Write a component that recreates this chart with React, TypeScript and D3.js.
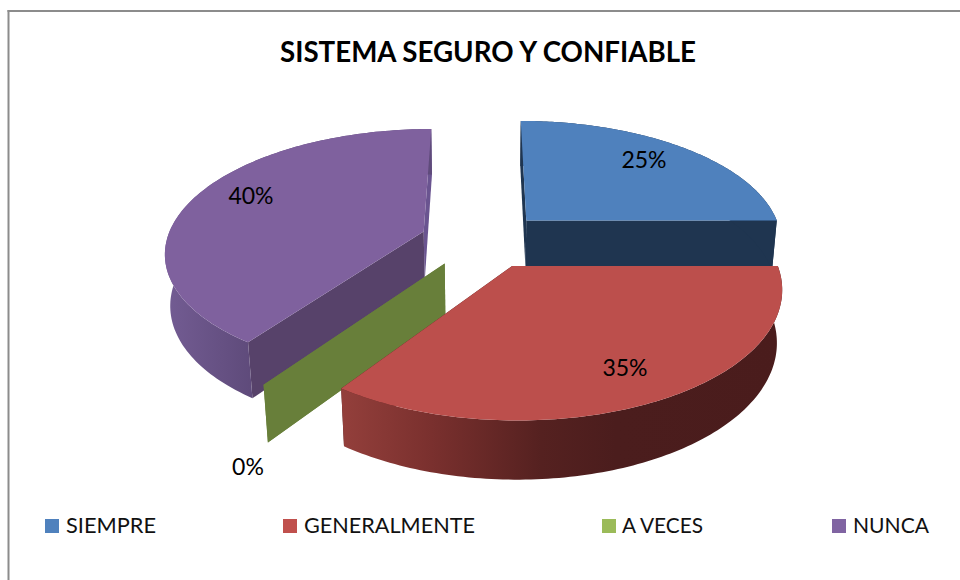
import React from "react";
import * as d3 from "d3";

const categories = ["SIEMPRE", "GENERALMENTE", "A VECES", "NUNCA"];
const values = [25, 35, 0, 40];
const percentLabels = ["25%", "35%", "0%", "40%"];
const topColors = ["#4f81bd", "#bc4f4c", "#687f3a", "#7f619e"];
const legendColors = ["#4f81bd", "#c0504d", "#9bbb59", "#8064a2"];
const startFaceColors = ["#1f3550", "#4a1c1c", "#687f3a", "#57426a"];
const endFaceColors = ["#1f3550", "#4a1c1c", "#687f3a", "#6a5490"];
const drawOrder = [3, 0, 2, 1];
const title = "SISTEMA SEGURO Y CONFIABLE";

// Layout
const W = 960;
const H = 580;
const cx = 484;
const cy = 240;
const Rx = 257;
const Ay = 121;
const depthH = 52;
const persp = 0.1576;
const perspH = 0.017;
const explode = 0.233;
const sliceNudgeX = [1, 0, -3, -4];
const sliceStartShift = [0, 0, -0.016, -0.016];
const sliceEndShift = [0, -0.02, -0.016, 0];
const labelPos: [number, number][] = [[644, 168], [625, 376], [248, 475], [251, 204]];
const legendSwatchX = [45, 283, 602, 832];
const legendTextX = [66, 304, 622, 853];
const legendTextW = [90, 171, 81, 76];

type P = [number, number];

function project(theta: number, r: number, ex: number, ey: number, low: boolean, nudge: number): P {
  const x = r * Math.sin(theta) + ex;
  const y = -r * Math.cos(theta) + ey;
  const s = 1 / (1 - persp * y + (low ? perspH : 0));
  return [cx + nudge + Rx * x * s, cy + (Ay * y + (low ? depthH : 0)) * s];
}

const linePath = d3.line<P>().x((d) => d[0]).y((d) => d[1]);
const pieGen = d3.pie<number>().sort(null).value((d) => d);

function sampleAngles(a0: number, a1: number): number[] {
  const n = 120;
  const scale = d3.scaleLinear().domain([0, n]).range([a0, a1]);
  return d3.range(n + 1).map((i) => scale(i));
}

export default function App() {
  const arcs = pieGen(values);
  const slices = arcs.map((a, i) => {
    const mid = (a.startAngle + a.endAngle) / 2;
    const ex = explode * Math.sin(mid);
    const ey = -explode * Math.cos(mid);
    const nudge = sliceNudgeX[i];
    const startAngle = a.startAngle + sliceStartShift[i];
    const endAngle = a.endAngle + sliceEndShift[i];
    const angles = sampleAngles(startAngle, endAngle);
    const topArc = angles.map((t) => project(t, 1, ex, ey, false, nudge));
    const lowArc = angles.map((t) => project(t, 1, ex, ey, true, nudge));
    const apexTop = project(0, 0, ex, ey, false, nudge);
    const apexLow = project(0, 0, ex, ey, true, nudge);
    const face = (t: number) =>
      linePath([apexTop, project(t, 1, ex, ey, false, nudge), project(t, 1, ex, ey, true, nudge), apexLow]) + "Z";
    return {
      i,
      startFace: face(startAngle),
      endFace: face(endAngle),
      outer: linePath([...topArc, ...lowArc.slice().reverse()]) + "Z",
      top: linePath([apexTop, ...topArc]) + "Z",
    };
  });

  return (
    <svg width={W} height={H} viewBox={`0 0 ${W} ${H}`} style={{ position: "absolute", left: 0, top: 0, background: "#fff" }}>
      <defs>
        <linearGradient id="side-1" gradientUnits="userSpaceOnUse" x1={343} x2={783} y1={0} y2={0}>
          <stop offset="0" stopColor="#933f3b" />
          <stop offset="0.2" stopColor="#7a302e" />
          <stop offset="0.45" stopColor="#552120" />
          <stop offset="0.62" stopColor="#4b1d1d" />
          <stop offset="1" stopColor="#4a1c1c" />
        </linearGradient>
        <linearGradient id="side-3" gradientUnits="userSpaceOnUse" x1={165} x2={250} y1={0} y2={0}>
          <stop offset="0" stopColor="#735c93" />
          <stop offset="1" stopColor="#5f4b7b" />
        </linearGradient>
      </defs>
      <line x1={8.5} x2={8.5} y1={10} y2={H} stroke="#8c8c8c" strokeWidth={2} />
      <line x1={7.5} x2={W} y1={11} y2={11} stroke="#8c8c8c" strokeWidth={2} />
      <text x={488} y={62} textAnchor="middle" fontFamily="Lato" fontWeight={700} fontSize={27.7} fill="#000">{title}</text>
      {drawOrder.map((idx) => {
        const s = slices[idx];
        const side = idx === 1 || idx === 3 ? `url(#side-${idx})` : startFaceColors[idx];
        return (
          <g key={idx}>
            <path d={s.endFace} fill={endFaceColors[idx]} />
            <path d={s.startFace} fill={startFaceColors[idx]} />
            <path d={s.outer} fill={side} />
            <path d={s.top} fill={topColors[idx]} />
          </g>
        );
      })}
      {percentLabels.map((t, i) => (
        <text key={t} x={labelPos[i][0]} y={labelPos[i][1]} textAnchor="middle" fontFamily="Lato" fontSize={23} fill="#000">{t}</text>
      ))}
      {categories.map((c, i) => (
        <g key={c}>
          <rect x={legendSwatchX[i]} y={519} width={14} height={14} fill={legendColors[i]} />
          <text x={legendTextX[i]} y={533} fontFamily="Lato" fontSize={21.7} fill="#111" textLength={legendTextW[i]} lengthAdjust="spacingAndGlyphs">{c}</text>
        </g>
      ))}
    </svg>
  );
}
